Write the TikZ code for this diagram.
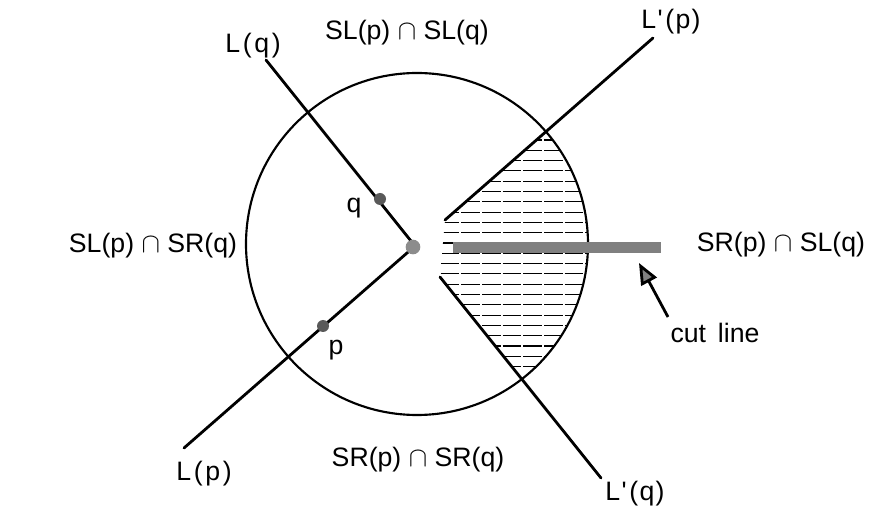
\documentclass[tikz,border=0pt]{standalone}
\usepackage{fontspec}
\setmainfont{Liberation Sans}
\usetikzlibrary{arrows.meta}
\begin{document}
\begin{tikzpicture}[x=0.75pt,y=-0.75pt,
  lbl/.style={font=\fontsize{20}{24}\selectfont, inner sep=0pt},
  ray/.style={line width=2.1pt, line cap=round},
  ptdot/.style={circle, fill=black!65, minimum size=9pt, inner sep=0pt},
  hatchline/.style={line width=0.8pt, dash pattern=on 14pt off 1.5pt},
  cutbar/.style={fill=black!50},
]
\useasboundingbox (0,0) rectangle (890,513);
% key points
\coordinate (C) at (417,244);
\coordinate (O) at (415,246);
\coordinate (Lq) at (266,60);
\coordinate (Lp) at (184,448);
\coordinate (Lpp) at (653,38);
\coordinate (Lqq) at (601,478);
\coordinate (A) at (445,220);
\coordinate (B) at (440,277);
\coordinate (Pfar) at (610,75);
\coordinate (Qfar) at (578,449);
% hatched sector
\begin{scope}
  \clip (C) circle[radius=128.25pt];
  \clip (A) -- (Pfar) -- (760,75) -- (760,449) -- (Qfar) -- (B) -- cycle;
  \foreach \yy in {140,150.3,...,375} \draw[hatchline] (420,\yy) -- (620,\yy);
\end{scope}
% circle
\draw[line width=1.6pt] (C) circle[radius=128.25pt];
% lines
\draw[ray] (Lq) -- (O);
\draw[ray] (Lp) -- (O);
\draw[ray] (A) -- (Lpp);
\draw[ray] (B) -- (Lqq);
% cut line bar
\coordinate (cutL) at (453,242);
\coordinate (cutR) at (661,253);
\fill[cutbar] (cutL) rectangle (cutR);
% dots
\node[ptdot] (q) at (380,199) {};
\node[ptdot] (p) at (323,326) {};
\node[ptdot, fill=black!45, minimum size=11pt] (o) at (413,247) {};
% arrow to cut line
\coordinate (atail) at (668,317);
\coordinate (atip) at (639,263);
\draw[line width=2.1pt, -{Triangle[length=16pt,width=13pt,fill=black!50]}] (atail) -- (atip);
% labels
\node[lbl] (tLq) at (253,46) {L\kern2pt(\kern2pt q\kern2pt)};
\node[lbl] (tSLSL) at (407,33) {SL(p) $\cap$ SL(q)};
\node[lbl] (tLpp) at (671,22) {L\kern1pt\textquotesingle\kern2pt(\kern1pt p\kern1pt)};
\node[lbl] (tSLSR) at (153,246) {SL(p) $\cap$ SR(q)};
\node[lbl] (tSRSL) at (781,245) {SR(p) $\cap$ SL(q)};
\node[lbl] (tq) at (354,208) {q};
\node[lbl] (tp) at (336,350) {p};
\node[lbl] (tcut) at (715,333) {cut\, line};
\node[lbl] (tLp) at (204,474) {L\kern2pt(\kern2pt p\kern2pt)};
\node[lbl] (tSRSR) at (418,460) {SR(p) $\cap$ SR(q)};
\node[lbl] (tLqq) at (635,494) {L\kern1pt\textquotesingle\kern2pt(\kern1pt q\kern1pt)};
\end{tikzpicture}
\end{document}
